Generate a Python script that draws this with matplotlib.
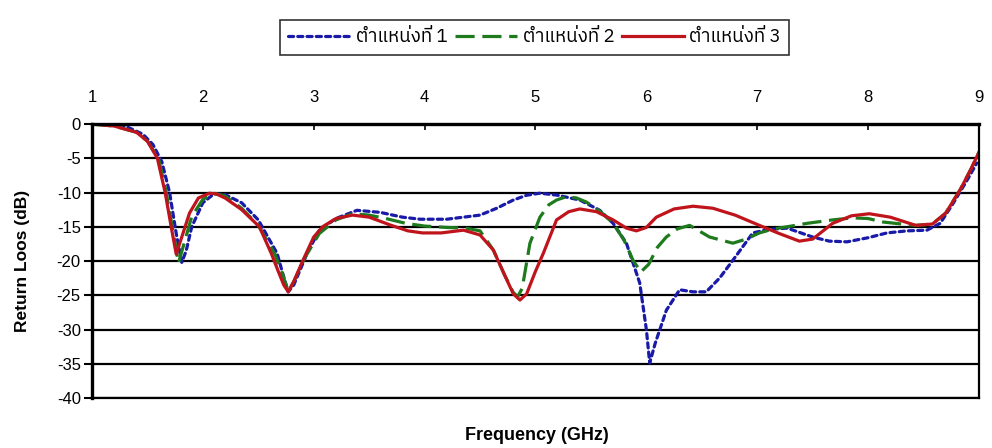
import matplotlib
matplotlib.use("Agg")
import matplotlib.pyplot as plt
from matplotlib import font_manager
from matplotlib.ft2font import FT2Font

# ข้อมูล Return Loss ที่ตำแหน่งต่างๆ
freq_1 = [1.0, 1.1, 1.2, 1.3, 1.46, 1.55, 1.63, 1.7, 1.76, 1.81, 1.85, 1.9, 2.0, 2.1, 2.2, 2.35, 2.5,
          2.67, 2.72, 2.77, 2.82, 2.94, 3.05, 3.2, 3.39, 3.6, 3.8, 3.96, 4.2, 4.5, 4.65, 4.8, 4.92,
          5.04, 5.2, 5.4, 5.58, 5.7, 5.82, 5.94, 6.0, 6.03, 6.08, 6.18, 6.3, 6.42, 6.54, 6.66, 6.78,
          6.96, 7.1, 7.27, 7.5, 7.65, 7.81, 8.0, 8.17, 8.35, 8.53, 8.65, 8.77, 8.9, 8.98]
rl_1 = [0, 0.3, 0.2, -0.3, -1.5, -3, -5.5, -10, -16, -20.2, -18.5, -15, -11.5, -10.2, -10.3, -11.5, -14,
        -18.9, -21.8, -24.5, -23.5, -18.9, -15.5, -13.8, -12.6, -12.9, -13.6, -13.9, -13.9, -13.3, -12.3,
        -11.1, -10.4, -10.1, -10.4, -11.1, -12.6, -14.5, -17.4, -23.2, -30, -34.9, -32, -27.2, -24.2,
        -24.5, -24.5, -22.5, -19.9, -15.9, -15.4, -15.2, -16.5, -17.1, -17.2, -16.6, -15.9, -15.6,
        -15.5, -14.5, -11.5, -8, -5.7]

freq_2 = [1.0, 1.2, 1.4, 1.5, 1.6, 1.67, 1.73, 1.78, 1.83, 1.9, 2.0, 2.1, 2.2, 2.35, 2.5, 2.65, 2.72,
          2.77, 2.82, 2.92, 3.05, 3.2, 3.35, 3.5, 3.65, 3.83, 4.0, 4.2, 4.37, 4.5, 4.62, 4.72, 4.8, 4.84,
          4.88, 4.95, 5.04, 5.12, 5.19, 5.28, 5.37, 5.46, 5.58, 5.7, 5.8, 5.88, 5.95, 6.02, 6.1, 6.18,
          6.28, 6.39, 6.57, 6.78, 6.9, 7.02, 7.15, 7.27, 7.45, 7.68, 7.86, 8.0, 8.13, 8.3, 8.43, 8.58,
          8.7, 8.83, 8.93, 9.0]
rl_2 = [0, -0.3, -1.2, -2.5, -5, -10, -15.5, -20.3, -17.5, -13.5, -11, -10.1, -10.5, -12.3, -14.8, -19,
        -22, -24.5, -23, -19.5, -16, -14, -13.1, -13.3, -13.8, -14.5, -14.9, -15.1, -15.2, -15.6, -18.4,
        -22, -24.6, -25.2, -24, -17.4, -13.6, -11.8, -11.1, -10.6, -10.8, -11.4, -12.7, -14.5, -17,
        -19.9, -21.6, -20.5, -18, -16.5, -15.3, -14.8, -16.5, -17.4, -16.8, -15.9, -15.3, -15, -14.5,
        -14, -13.7, -13.8, -14.3, -14.6, -14.8, -14.6, -13, -9.6, -6.5, -4.1]

freq_3 = [1.0, 1.2, 1.4, 1.5, 1.59, 1.66, 1.72, 1.76, 1.8, 1.88, 1.96, 2.06, 2.12, 2.2, 2.35, 2.51, 2.62,
          2.68, 2.73, 2.77, 2.82, 2.9, 3.0, 3.08, 3.2, 3.35, 3.5, 3.7, 3.85, 3.98, 4.15, 4.35, 4.5, 4.62,
          4.72, 4.8, 4.86, 4.92, 5.0, 5.07, 5.19, 5.3, 5.4, 5.55, 5.7, 5.82, 5.91, 6.0, 6.09, 6.25, 6.42,
          6.6, 6.8, 7.02, 7.2, 7.38, 7.5, 7.68, 7.85, 8.01, 8.2, 8.43, 8.58, 8.7, 8.83, 8.93, 9.0]
rl_3 = [0, -0.3, -1.2, -2.5, -5, -10, -15.5, -19, -17, -13, -10.8, -10.1, -10.2, -10.8, -12.5, -15, -19,
        -21.5, -23.5, -24.5, -23, -20, -16.5, -15, -13.8, -13.3, -13.6, -14.8, -15.6, -15.9, -15.9,
        -15.5, -16.2, -18.4, -22, -24.8, -25.7, -24.8, -21.5, -18.9, -14, -12.8, -12.4, -12.8, -14,
        -15.2, -15.6, -15.1, -13.6, -12.4, -12, -12.3, -13.3, -14.8, -16, -17.1, -16.8, -14.5, -13.4,
        -13.1, -13.6, -14.8, -14.6, -13, -9.6, -6.5, -4.1]

labels = ["ตำแหน่งที่ 1", "ตำแหน่งที่ 2", "ตำแหน่งที่ 3"]
x_ticks = [1, 2, 3, 4, 5, 6, 7, 8, 9]
y_ticks = [0, -5, -10, -15, -20, -25, -30, -35, -40]

# หาฟอนต์ที่มีอักษรไทย
thai_family = None
for f in font_manager.fontManager.ttflist:
    try:
        if 0x0E15 in FT2Font(f.fname).get_charmap():
            thai_family = f.name
            if "Sans" in f.name:
                break
    except Exception:
        pass
legend_fonts = ([thai_family] if thai_family else []) + ["Liberation Sans", "DejaVu Sans"]

plt.rcParams["font.family"] = ["Liberation Sans", "DejaVu Sans"]
plt.rcParams["axes.unicode_minus"] = False

fig = plt.figure(figsize=(9.92, 4.48), dpi=100)
ax = fig.add_axes([0.0927, 0.1116, 0.8942, 0.6116])

ax.plot(freq_1, rl_1, color="#1a1aa8", lw=2.3, dashes=(1.6, 1.3), dash_capstyle="round", label=labels[0])
ax.plot(freq_2, rl_2, color="#1d7a1d", lw=2.3, dashes=(6.0, 2.4), label=labels[1])
ax.plot(freq_3, rl_3, color="#c0141c", lw=2.3, label=labels[2])

ax.set_xlim(1, 9)
ax.set_ylim(-40, 0)
ax.set_xticks(x_ticks)
ax.set_yticks(y_ticks)
ax.xaxis.tick_top()
ax.tick_params(axis="x", direction="in", length=4, width=1.2, labelsize=12, pad=14)
ax.tick_params(axis="y", direction="out", length=6, width=1.5, labelsize=12, pad=2)
for y in y_ticks:
    ax.axhline(y, color="black", lw=1.6, zorder=1)
for side in ["left", "top"]:
    ax.spines[side].set_linewidth(2.4)
for side in ["right", "bottom"]:
    ax.spines[side].set_linewidth(1.6)

ax.set_ylabel("Return Loos (dB)", fontsize=12.5, fontweight="bold", labelpad=19)
fig.text(0.541, 0.027, "Frequency (GHz)", ha="center", va="center", fontsize=13, fontweight="bold")

leg = fig.legend(loc="center", bbox_to_anchor=(0.539, 0.917), ncol=3, frameon=True, fancybox=False,
                 handlelength=3.3, columnspacing=0.4, handletextpad=0.3, borderpad=0.45,
                 prop={"family": legend_fonts, "size": 13.5})
leg.get_frame().set_edgecolor("black")
leg.get_frame().set_linewidth(1.2)

fig.savefig("out.png", dpi=100)
